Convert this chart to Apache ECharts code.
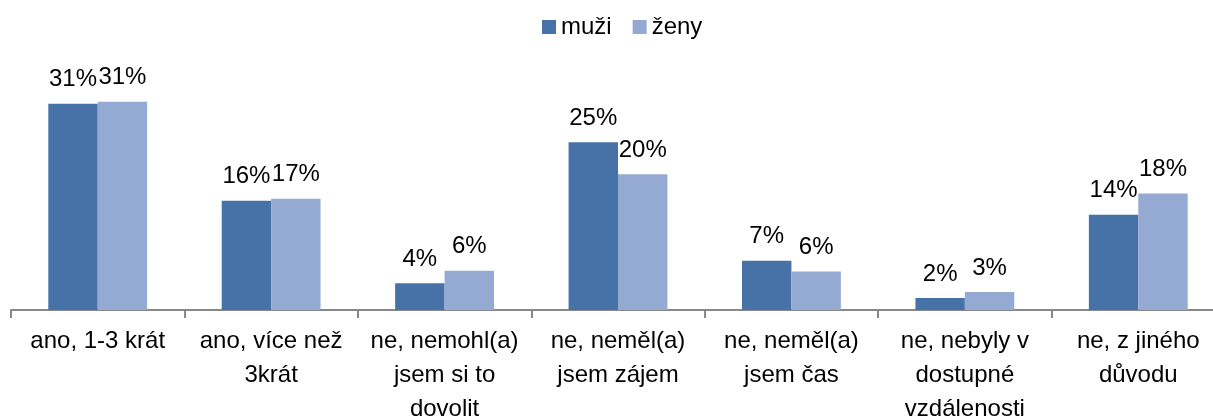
<!DOCTYPE html>
<html>
<head>
<meta charset="utf-8">
<script src="https://cdn.jsdelivr.net/npm/echarts@6/dist/echarts.min.js"></script>
<style>
    html, body { margin: 0; padding: 0; background: #fff; }
    #chart { width: 1213px; height: 419px; }
</style>
</head>
<body>
<div id="chart"></div>
<script>
const categories = [
    'ano, 1-3 krát',
    'ano, více než\n3krát',
    'ne, nemohl(a)\njsem si to\ndovolit',
    'ne, neměl(a)\njsem zájem',
    'ne, neměl(a)\njsem čas',
    'ne, nebyly v\ndostupné\nvzdálenosti',
    'ne, z jiného\ndůvodu'
];
const muzi = [31.0, 16.4, 4.0, 25.2, 7.4, 1.8, 14.3];
const zeny = [31.3, 16.7, 5.9, 20.4, 5.8, 2.7, 17.5];

const font = '"Liberation Sans", Arial, sans-serif';
const chart = echarts.init(document.getElementById('chart'));

function barLabel() {
    return {
        show: true,
        position: 'top',
        distance: 12,
        color: '#000',
        fontFamily: font,
        fontSize: 24,
        formatter: p => Math.round(p.value) + '%'
    };
}

chart.setOption({
    animation: false,
    legend: {
        left: 537,
        top: 10,
        itemWidth: 14,
        itemHeight: 14,
        itemGap: 21,
        icon: 'rect',
        textStyle: { fontFamily: font, fontSize: 24, color: '#000' },
        data: ['muži', 'ženy']
    },
    grid: { left: 11, right: -12, top: 77, bottom: 109, outerBoundsMode: 'none', containLabel: false },
    xAxis: {
        type: 'category',
        data: categories,
        axisLine: { lineStyle: { color: '#888', width: 2 } },
        axisTick: { show: true, length: 8, lineStyle: { color: '#888', width: 2 } },
        axisLabel: {
            color: '#000',
            fontFamily: font,
            fontSize: 24,
            lineHeight: 34,
            margin: 14,
            interval: 0
        }
    },
    yAxis: {
        type: 'value',
        min: 0,
        max: 35,
        show: false,
        splitLine: { show: false }
    },
    series: [{
        name: 'muži',
        type: 'bar',
        data: muzi,
        barGap: 0,
        barCategoryGap: '43%',
        itemStyle: { color: '#4672a8' },
        label: barLabel()
    }, {
        name: 'ženy',
        type: 'bar',
        data: zeny,
        itemStyle: { color: '#95aad2' },
        label: barLabel()
    }]
});
</script>
</body>
</html>
